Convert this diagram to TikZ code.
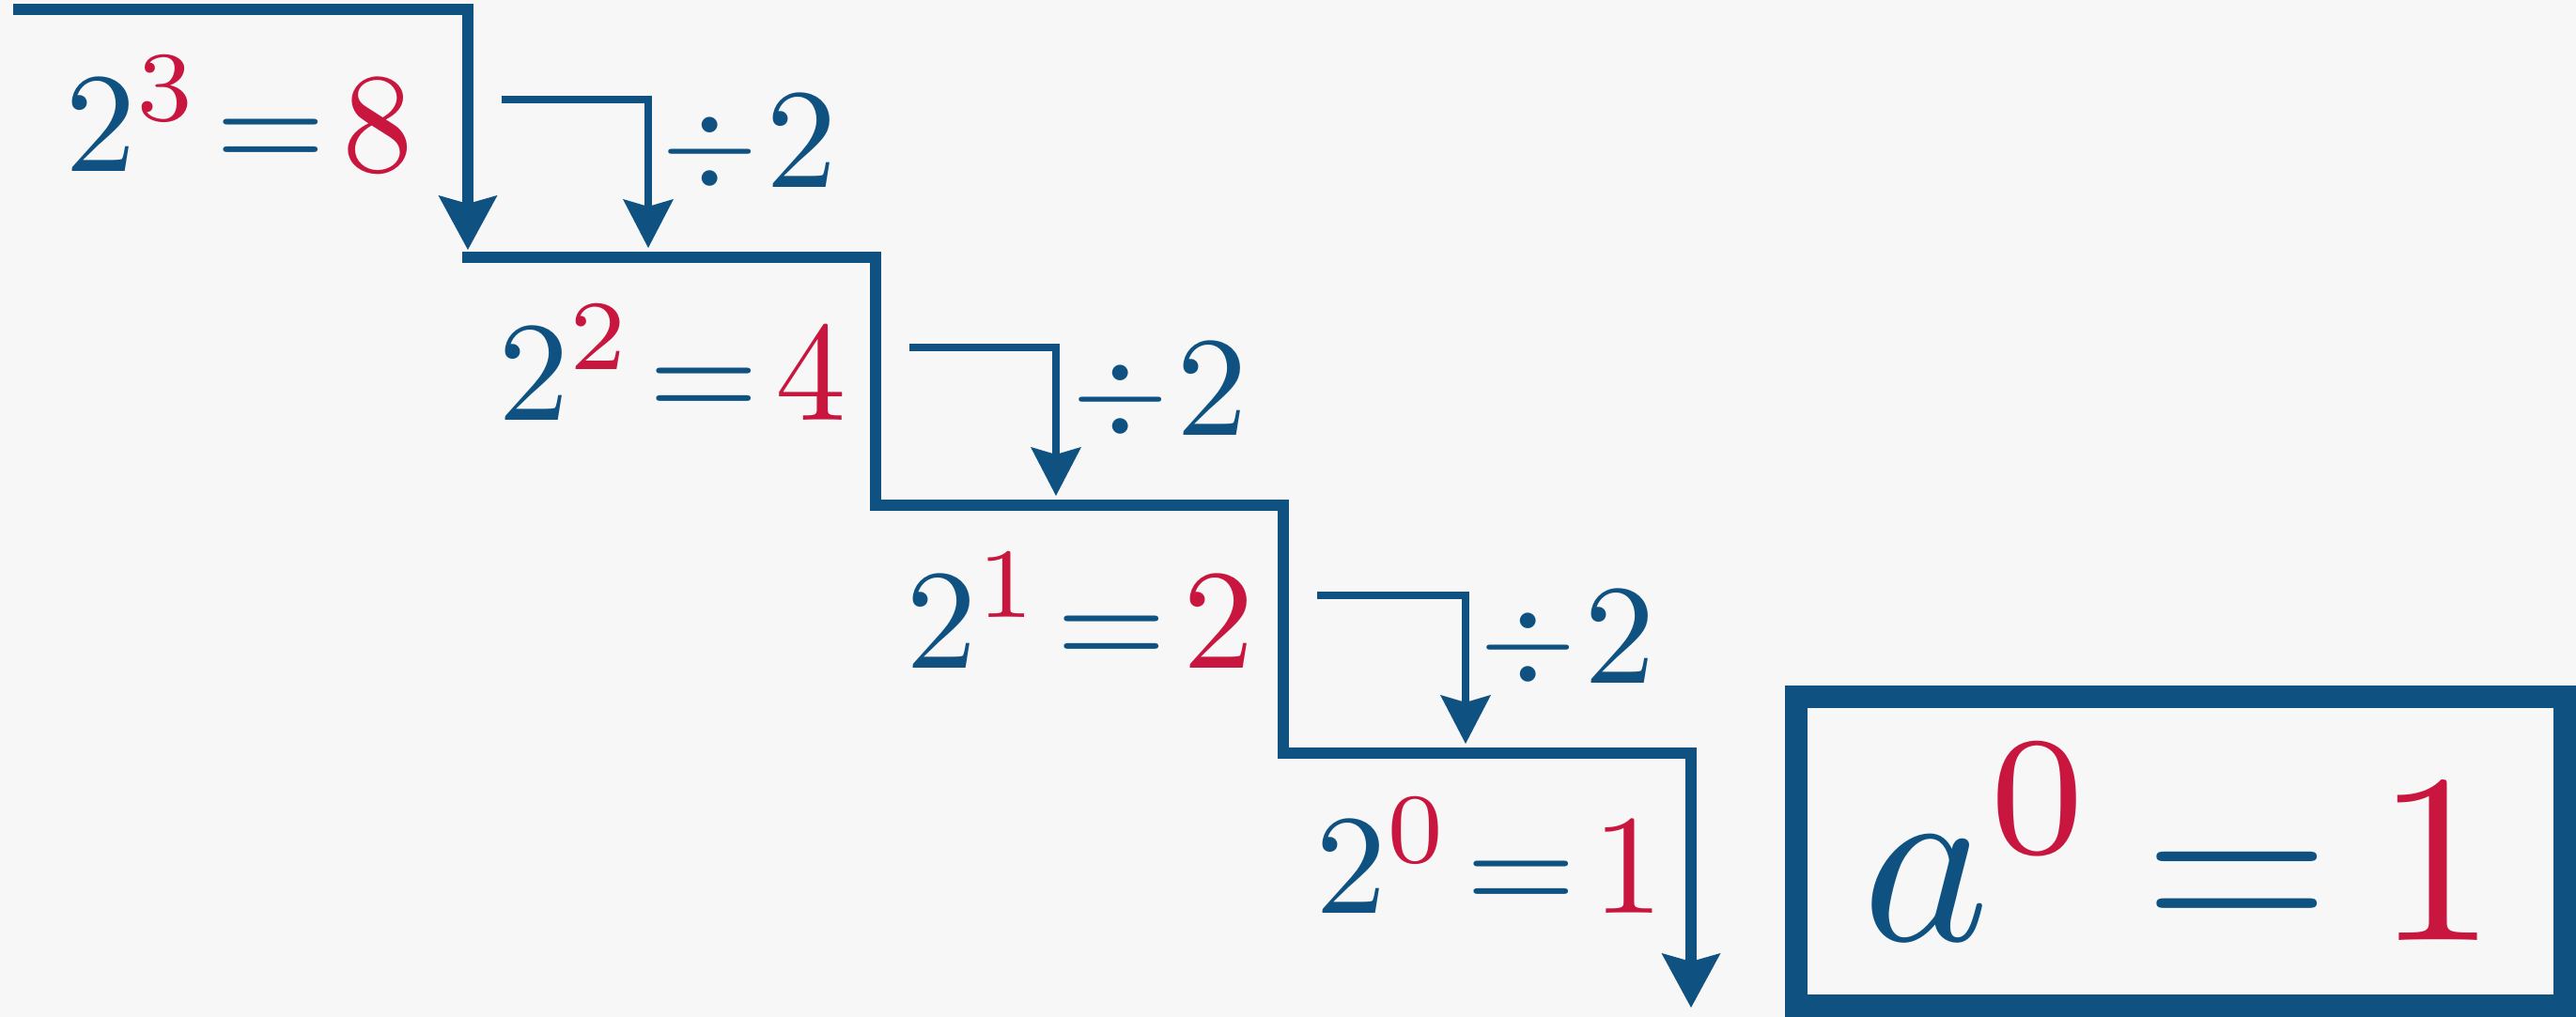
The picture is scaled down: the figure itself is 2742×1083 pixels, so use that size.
\documentclass[tikz,border=0pt]{standalone}
\usepackage{graphicx}
\usetikzlibrary{arrows.meta}
\definecolor{blu}{HTML}{0F5282}
\definecolor{rd}{HTML}{C8163E}
\definecolor{bgc}{HTML}{F7F7F7}
\newcommand{\poweq}[3]{\scalebox{4.3}{$\thickmuskip=2mu #1^{\textcolor{rd}{#2}}=\textcolor{rd}{#3}$}}
\newcommand{\divtwo}{\scalebox{4.3}{\raisebox{0.035em}{\scalebox{0.87}{$\div$}}$\mkern1mu 2$}}
\tikzset{
  stair/.style={draw=blu, line width=3.4pt, line join=miter},
  bigtip/.style={-{Stealth[length=0.58cm,width=0.63cm,inset=0.09cm,line width=0pt]}},
  smallarrow/.style={draw=blu, line width=2.3pt, line join=miter,
    -{Stealth[length=0.52cm,width=0.54cm,inset=0.08cm,line width=0pt]}},
  eq/.style={anchor=base west, inner sep=0pt, text=blu},
  bigeq/.style={anchor=base, inner sep=0pt, text=blu},
  framebox/.style={draw=blu, line width=6.8pt, inner sep=0pt,
    minimum width=8.18cm, minimum height=3.29cm}
}
\begin{document}
\begin{tikzpicture}[x=0.01cm,y=-0.01cm]
\fill[bgc] (0,0) rectangle (2742,1083);
\useasboundingbox (0,0) rectangle (2742,1083);

% staircase corners
\coordinate (p0) at (14,10);
\coordinate (p1) at (498,10);
\coordinate (p1e) at (498,266);
\coordinate (q1) at (492,274);
\coordinate (p2) at (932,274);
\coordinate (p3) at (932,538);
\coordinate (p4) at (1366,538);
\coordinate (p5) at (1366,802);
\coordinate (p6) at (1800,802);
\coordinate (p7) at (1800,1073);

\draw[stair, bigtip] (p0) -- (p1) -- (p1e);
\draw[stair, bigtip] (q1) -- (p2) -- (p3) -- (p4) -- (p5) -- (p6) -- (p7);

% small division arrows
\coordinate (a1s) at (534,106);
\coordinate (a1c) at (690,106);
\coordinate (a1e) at (690,264);
\coordinate (a2s) at (968,370);
\coordinate (a2c) at (1124,370);
\coordinate (a2e) at (1124,528);
\coordinate (a3s) at (1402,634);
\coordinate (a3c) at (1560,634);
\coordinate (a3e) at (1560,792);
\draw[smallarrow] (a1s) -- (a1c) -- (a1e);
\draw[smallarrow] (a2s) -- (a2c) -- (a2e);
\draw[smallarrow] (a3s) -- (a3c) -- (a3e);

% equations
\node[eq] (e3) at (69,183) {\poweq{2}{3}{8}};
\node[eq] (e2) at (530,448) {\poweq{2}{2}{4}};
\node[eq] (e1) at (964,712) {\poweq{2}{1}{2}};
\node[eq] (e0) at (1400,973) {\poweq{2}{0}{1}};

% division labels
\node[eq] (d1) at (704,200) {\divtwo};
\node[eq] (d2) at (1141,464) {\divtwo};
\node[eq] (d3) at (1575,728) {\divtwo};

% boxed result
\node[framebox] (box) at (2321,906.5) {};
\node[bigeq] (res) at (2320,1002) {\scalebox{7.3}{$\thickmuskip=3.4mu a^{\textcolor{rd}{0}}=\textcolor{rd}{1}$}};
\end{tikzpicture}
\end{document}
